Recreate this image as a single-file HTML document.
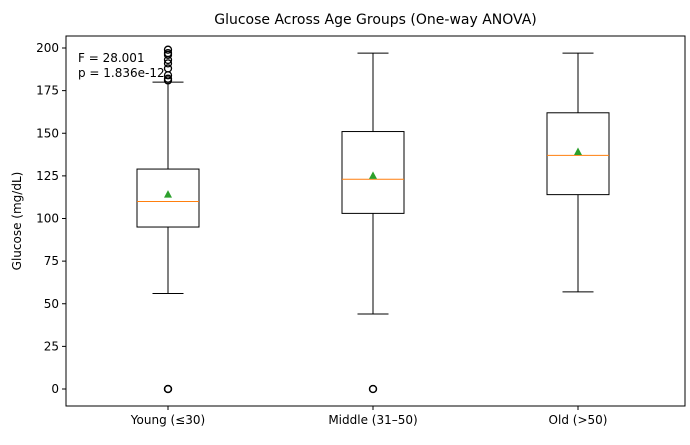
<!DOCTYPE html>
<html><head><meta charset="utf-8"><style>
body{margin:0;background:#fff;font-family:"Liberation Sans","DejaVu Sans",sans-serif;}
svg text{font-family:"DejaVu Sans","Liberation Sans",sans-serif;}
</style></head><body>
<svg id="c" width="690" height="440" xmlns="http://www.w3.org/2000/svg"></svg>
<script>
const categories=["Young (\u226430)","Middle (31\u201350)","Old (>50)"];
const whiskerLow=[56,44,57];
const q1=[95,103,114];
const medians=[110,123,137];
const q3=[129,151,162];
const whiskerHigh=[180,197,197];
const means=[114,125,139];
const outliers=[[0,0,0,181,182,184,188,191,193,196,197,199],[0,0],[]];
const yTicks=[0,25,50,75,100,125,150,175,200];
const NS="http://www.w3.org/2000/svg";
const svg=document.getElementById('c');
const L=66,R=685,T=36,B=406;
const y=v=>389-v*(341/200);
const x=i=>168+i*205;
function mk(t,a,p){const e=document.createElementNS(NS,t);for(const k in a)e.setAttribute(k,a[k]);(p||svg).appendChild(e);return e;}
const title=mk('text',{x:375.5,y:24,'text-anchor':'middle','font-size':14});title.textContent="Glucose Across Age Groups (One-way ANOVA)";


const yl=mk('text',{transform:'translate(21,221) rotate(-90)','text-anchor':'middle','font-size':12});yl.textContent="Glucose (mg/dL)";


yTicks.forEach(t=>{
 mk('line',{x1:L-4,x2:L,y1:y(t),y2:y(t),stroke:'#000'});
 const tx=mk('text',{x:L-7,y:y(t)+4,'text-anchor':'end','font-size':12});tx.textContent=t;
 
 
});
categories.forEach((c,i)=>{
 const g=mk('g',{});
 
 
 const cx=x(i),w=31,cw=15.5;
 mk('line',{x1:cx,x2:cx,y1:y(whiskerLow[i]),y2:y(q1[i]),stroke:'#000'},g);
 mk('line',{x1:cx,x2:cx,y1:y(q3[i]),y2:y(whiskerHigh[i]),stroke:'#000'},g);
 mk('line',{x1:cx-cw,x2:cx+cw,y1:y(whiskerLow[i]),y2:y(whiskerLow[i]),stroke:'#000'},g);
 mk('line',{x1:cx-cw,x2:cx+cw,y1:y(whiskerHigh[i]),y2:y(whiskerHigh[i]),stroke:'#000'},g);
 mk('rect',{x:cx-w,y:y(q3[i]),width:2*w,height:y(q1[i])-y(q3[i]),fill:'none',stroke:'#000'},g);
 mk('line',{x1:cx-w,x2:cx+w,y1:y(medians[i]),y2:y(medians[i]),stroke:'#ff7f0e'},g);
 const m=y(means[i]);
 mk('polygon',{points:`${cx},${m-4.5} ${cx-4},${m+3} ${cx+4},${m+3}`,fill:'#2ca02c'},g);
 outliers[i].forEach(o=>mk('circle',{cx:cx,cy:y(o),r:3.5,fill:'none',stroke:'#000','stroke-width':1.3},g));
 mk('line',{x1:cx,x2:cx,y1:B,y2:B+4,stroke:'#000'});
 const tx=mk('text',{x:cx,y:B+18,'text-anchor':'middle','font-size':12});tx.textContent=c;
 
 
});
const fr=mk('rect',{x:L,y:T,width:R-L,height:B-T,fill:'none',stroke:'#000'});


const a1=mk('text',{x:78,y:62,'font-size':12});a1.textContent="F = 28.001";


const a2=mk('text',{x:78,y:77,'font-size':12});a2.textContent="p = 1.836e-12";


</script>
</body></html>
